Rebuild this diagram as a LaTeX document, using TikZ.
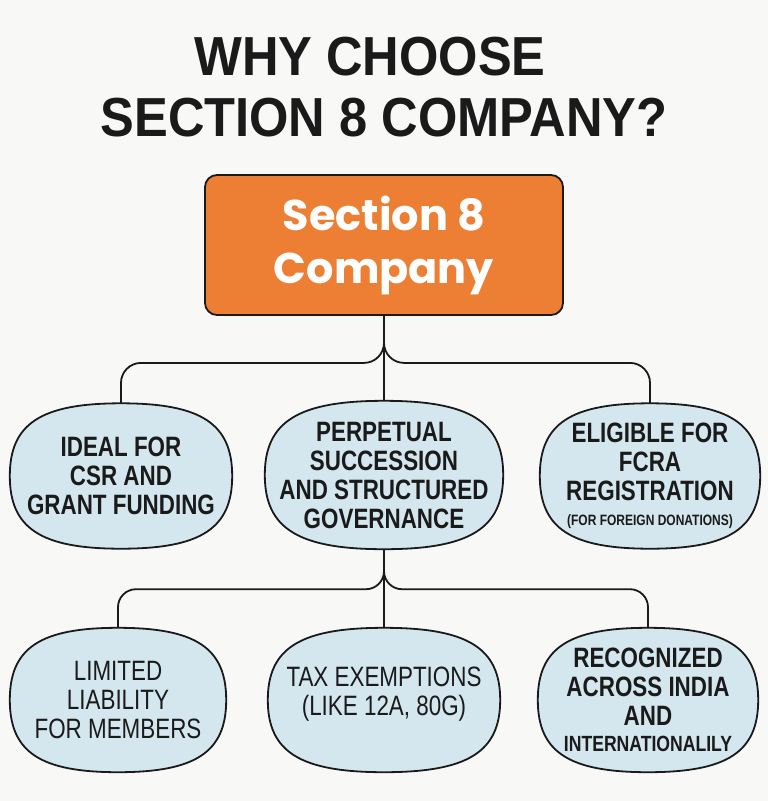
\documentclass[tikz,border=0pt]{standalone}
\usepackage{fontspec}
\setmainfont{Liberation Sans}
\newfontfamily\headfont[FakeStretch=0.92]{Liberation Sans}
\newfontfamily\boxfont{Poppins}
\newfontfamily\condfont[FakeStretch=0.8]{Liberation Sans}
\newfontfamily\medfont[FakeStretch=0.8]{Liberation Sans}
\usepackage{xcolor}
\usepackage{tikz}
\usetikzlibrary{positioning, calc, backgrounds}

\definecolor{bgpaper}{HTML}{F8F8F6}
\definecolor{mainorange}{HTML}{EC7F33}
\definecolor{paleblue}{HTML}{D4E7EE}
\definecolor{inkdark}{HTML}{1A1A1A}

% rounded bulging outline around a node
\newcommand{\blob}[1]{%
  \path[blobline] (#1.north)
    .. controls ($(#1.north)!0.72!(#1.north east)$) and ($(#1.east)!0.72!(#1.north east)$) .. (#1.east)
    .. controls ($(#1.east)!0.72!(#1.south east)$) and ($(#1.south)!0.72!(#1.south east)$) .. (#1.south)
    .. controls ($(#1.south)!0.72!(#1.south west)$) and ($(#1.west)!0.72!(#1.south west)$) .. (#1.west)
    .. controls ($(#1.west)!0.72!(#1.north west)$) and ($(#1.north)!0.72!(#1.north west)$) .. (#1.north) -- cycle;}

\begin{document}
\begin{tikzpicture}[
  x=1pt, y=-1pt,
  headline/.style={font=\headfont\bfseries\fontsize{55}{62}\selectfont, text=inkdark, inner sep=0pt},
  mainbox/.style={draw=inkdark, line width=1.8pt, fill=mainorange, rounded corners=12pt, minimum width=358pt, minimum height=140pt, align=center, text=white, font=\boxfont\bfseries\fontsize{43}{53}\selectfont},
  reason/.style={minimum height=145pt, inner sep=0pt, align=center, text=inkdark, font=\condfont\bfseries\fontsize{28}{29}\selectfont},
  plain/.style={reason, font=\medfont\fontsize{28}{29}\selectfont},
  blobline/.style={draw=inkdark, line width=1.8pt, fill=paleblue},
  link/.style={draw=inkdark, line width=1.8pt}
]
  \useasboundingbox (0,0) rectangle (768,801);

  % Title
  \node[headline] (title1) at (370,57) {WHY CHOOSE};
  \node[headline] (title2) at (384,118) {SECTION 8 COMPANY?};

  % Root
  \node[mainbox] (main) at (384,245) {Section 8\\Company};

  % First row
  \node[reason, minimum width=222pt] (csr) at (121,476) {IDEAL FOR\\CSR AND\\GRANT FUNDING};
  \node[reason, minimum width=238pt, minimum height=148pt] (perp) at (384,475) {PERPETUAL\\SUCCESSION\\AND STRUCTURED\\GOVERNANCE};
  \node[reason, minimum width=220pt] (fcra) at (650,476) {ELIGIBLE FOR\\FCRA\\REGISTRATION\\[-4pt]{\medfont\fontsize{15}{17}\selectfont(FOR FOREIGN DONATIONS)}};

  % Second row
  \node[plain, minimum width=216pt, minimum height=144pt] (liab) at (118,700) {LIMITED\\LIABILITY\\FOR MEMBERS};
  \node[plain, minimum width=232pt, minimum height=144pt] (tax) at (384,700) {TAX EXEMPTIONS\\(LIKE 12A, 80G)\\[-12pt]\mbox{}};
  \node[reason, minimum width=220pt, minimum height=144pt] (recog) at (648,700) {RECOGNIZED\\ACROSS INDIA\\AND\\[-3pt]{\medfont\fontsize{22}{24}\selectfont INTERNATIONALILY}};

  % Connectors
  \coordinate (fork1) at ($(main.south)+(0,47)$);
  \coordinate (fork2) at ($(perp.south)+(0,40)$);
  \draw[link] (main.south) -- (perp.north);
  \draw[link, rounded corners=20pt] ($(fork1)+(0,-22)$) |- (fork1 -| csr.north) -- (csr.north);
  \draw[link, rounded corners=20pt] ($(fork1)+(0,-22)$) |- (fork1 -| fcra.north) -- (fcra.north);
  \draw[link] (perp.south) -- (tax.north);
  \draw[link, rounded corners=18pt] ($(fork2)+(0,-19)$) |- (fork2 -| liab.north) -- (liab.north);
  \draw[link, rounded corners=18pt] ($(fork2)+(0,-19)$) |- (fork2 -| recog.north) -- (recog.north);

  % Backgrounds
  \begin{scope}[on background layer]
    \fill[bgpaper] (0,0) rectangle (768,801);
    \foreach \n in {csr, perp, fcra, liab, tax, recog} {\blob{\n}}
  \end{scope}

\end{tikzpicture}
\end{document}
